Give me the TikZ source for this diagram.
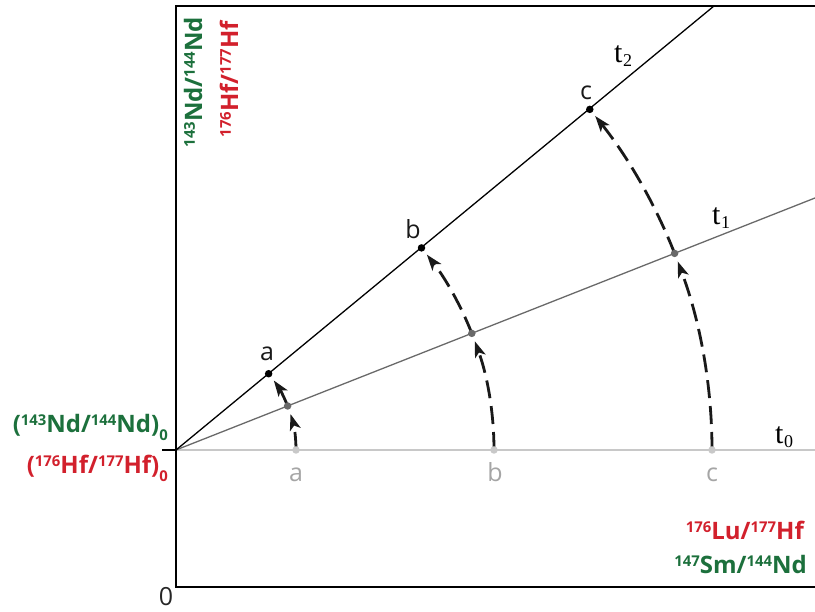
\documentclass[tikz,border=0pt]{standalone}
\usepackage{fontspec}
\setmainfont{Open Sans}
\newfontfamily\tfont{Liberation Serif}
\usetikzlibrary{arrows.meta}
\definecolor{ndgreen}{RGB}{28,112,60}
\definecolor{hfred}{RGB}{210,32,44}
\definecolor{tonegray}{RGB}{105,105,105}
\definecolor{tzerogray}{RGB}{200,200,200}
\definecolor{lblgray}{RGB}{165,165,165}
\newcommand\isup[1]{\raisebox{0.3em}{\scalebox{0.62}{#1}}}
\newcommand\isub[1]{\raisebox{-0.3em}{\scalebox{0.62}{#1}}}
\newcommand\tlab[1]{{\tfont t\kern0.5pt\raisebox{-4pt}{\fontsize{18}{18}\selectfont #1}}}
\tikzset{
  x=1pt, y=1pt,
  axisline/.style={line width=2pt, black},
  isolab/.style={font=\fontsize{24}{28}\selectfont\bfseries, inner sep=0pt},
  ptlab/.style={font=\fontsize{25}{28}\selectfont, inner sep=0pt, anchor=base},
  tlabel/.style={font=\fontsize{30}{32}\selectfont, inner sep=0pt, anchor=base west},
  dotk/.style={circle, fill=black, inner sep=0pt, minimum size=7.5pt},
  dotm/.style={circle, fill=tonegray, inner sep=0pt, minimum size=7.5pt},
  dotl/.style={circle, fill=tzerogray, inner sep=0pt, minimum size=7.5pt},
  evol/.style={line width=2.8pt, black!90, dash pattern=on 18pt off 8pt,
    -{Stealth[length=16pt, width=11pt, inset=4pt]}},
}
\begin{document}
\begin{tikzpicture}
\useasboundingbox (0,0) rectangle (815,612);
% origin
\coordinate (O) at (176,162);
% isochron lines
\coordinate (T0end) at (815,162);
\coordinate (T1end) at (815,414);
\coordinate (T2end) at (714,606);
\draw[line width=1.3pt, tzerogray] (O) -- (T0end);
\draw[line width=1.3pt, tonegray] (O) -- (T1end);
\draw[line width=1.3pt, black] (O) -- (T2end);
% axes
\coordinate (TL) at (176,606);
\coordinate (BL) at (176,25);
\coordinate (TR) at (815,606);
\coordinate (BR) at (815,25);
\coordinate (tick) at (162,162);
\draw[axisline] (TR) -- (TL) -- (BL) -- (BR);
\draw[axisline] (tick) -- (O);
% evolution arcs (centred on origin)
\begin{scope}[shift={(176,162)}]
  \coordinate (a0) at (0:120);  \coordinate (a1) at (21.52:120); \coordinate (a2) at (39.46:120);
  \coordinate (b0) at (0:318);  \coordinate (b1) at (21.52:318); \coordinate (b2) at (39.46:318);
  \coordinate (c0) at (0:536);  \coordinate (c1) at (21.52:536); \coordinate (c2) at (39.46:536);
  \draw[evol] (a0) arc[start angle=0, end angle=17.4, radius=120];
  \draw[evol] (a1) arc[start angle=21.52, end angle=35.4, radius=120];
  \draw[evol] (b0) arc[start angle=0, end angle=20.0, radius=318];
  \draw[evol] (b1) arc[start angle=21.52, end angle=37.9, radius=318];
  \draw[evol] (c0) arc[start angle=0, end angle=20.6, radius=536];
  \draw[evol] (c1) arc[start angle=21.52, end angle=38.55, radius=536];
\end{scope}
% dots
\node[dotl] (A0) at (a0) {}; \node[dotl] (B0) at (b0) {}; \node[dotl] (C0) at (c0) {};
\node[dotm] (A1) at (a1) {}; \node[dotm] (B1) at (b1) {}; \node[dotm] (C1) at (c1) {};
\node[dotk] (A2) at (a2) {}; \node[dotk] (B2) at (b2) {}; \node[dotk] (C2) at (c2) {};
% point labels
\node[ptlab, text=lblgray] (la0) at (296,130) {a};
\node[ptlab, text=lblgray] (lb0) at (495,130) {b};
\node[ptlab, text=lblgray] (lc0) at (712,130) {c};
\node[ptlab, text=black!90] (la2) at (267,251) {a};
\node[ptlab, text=black!90] (lb2) at (413,373) {b};
\node[ptlab, text=black!90] (lc2) at (586,512) {c};
% t labels
\node[tlabel] (t2) at (614,549) {\tlab{2}};
\node[tlabel] (t1) at (712,387) {\tlab{1}};
\node[tlabel] (t0) at (775,168) {\tlab{0}};
% axis labels
\node[isolab, text=ndgreen, rotate=90, anchor=east] (ylab1) at (193,595) {\isup{143}Nd/\isup{144}Nd};
\node[isolab, text=hfred, rotate=90, anchor=east] (ylab2) at (229,591) {\isup{176}Hf/\isup{177}Hf};
\node[isolab, text=ndgreen, anchor=base east] (init1) at (168,179) {(\isup{143}Nd/\isup{144}Nd)\isub{0}};
\node[isolab, text=hfred, anchor=base east] (init2) at (168,138) {(\isup{176}Hf/\isup{177}Hf)\isub{0}};
\node[isolab, text=hfred, anchor=base east] (xlab1) at (804,72) {\isup{176}Lu/\isup{177}Hf};
\node[isolab, text=ndgreen, anchor=base east] (xlab2) at (807,38) {\isup{147}Sm/\isup{144}Nd};
\node[font=\fontsize{25}{28}\selectfont, inner sep=0pt, anchor=base, text=black!85] (zero) at (166,6) {0};
\end{tikzpicture}
\end{document}
